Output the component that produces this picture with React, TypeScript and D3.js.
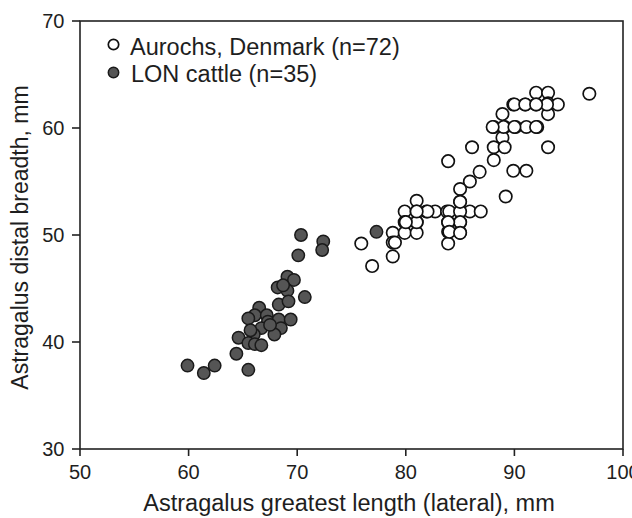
import React from "react";
import * as d3 from "d3";

const xTicks = [50, 60, 70, 80, 90, 100];
const yTicks = [30, 40, 50, 60, 70];

// Aurochs, Denmark (n=72): [length, breadth]
const aurochsX = [
  83.9, 86.8, 85.9, 85.0, 85.0, 81.0, 79.9, 81.0, 81.9, 82.7, 83.8, 85.0, 85.9, 86.9,
  79.9, 81.0, 83.9, 85.0, 78.8, 79.9, 81.0, 83.9, 85.0, 78.8, 83.9, 75.9, 78.8, 76.9,
  96.9, 92.0, 93.1, 89.9, 91.0, 92.0, 93.1, 94.0, 88.9, 93.1, 88.1, 89.1, 90.1, 91.1,
  92.1, 88.9, 88.1, 89.1, 93.1, 86.1, 88.1, 89.9, 91.1, 89.2,
  // overlapping (hidden) observations
  84.0, 85.0, 85.0, 81.0, 80.0, 83.9, 90.0, 92.0, 91.0, 93.0, 89.0, 88.0, 84.0, 85.0,
  82.0, 79.0, 92.0, 90.0, 85.0, 81.0,
];
const aurochsY = [
  56.9, 55.9, 55.0, 54.3, 53.1, 53.2, 52.2, 52.2, 52.2, 52.2, 52.2, 52.2, 52.2, 52.2,
  51.2, 51.2, 51.2, 51.2, 50.2, 50.2, 50.2, 50.3, 50.2, 49.3, 49.2, 49.2, 48.0, 47.1,
  63.2, 63.3, 63.3, 62.2, 62.2, 62.2, 62.3, 62.2, 61.3, 61.3, 60.1, 60.1, 60.1, 60.1,
  60.1, 59.1, 58.2, 58.2, 58.2, 58.2, 57.0, 56.0, 56.0, 53.6,
  52.2, 52.2, 51.2, 51.2, 51.2, 51.2, 62.2, 60.1, 62.2, 62.2, 60.1, 60.1, 50.3, 50.2,
  52.2, 49.3, 62.2, 60.1, 53.1, 52.2,
];

// LON cattle (n=35)
const lonX = [
  70.35, 72.4, 72.3, 70.1, 69.1, 69.7, 68.2, 69.1, 70.7, 68.3, 69.2, 66.5, 66.1, 65.5,
  67.2, 67.3, 68.3, 69.4, 66.7, 68.5, 67.9, 66.0, 64.6, 65.5, 66.1, 66.7, 64.4, 59.9,
  61.4, 62.4, 65.5, 77.3, 65.7, 67.5, 68.7,
];
const lonY = [
  50.0, 49.4, 48.6, 48.1, 46.1, 45.8, 45.1, 44.8, 44.2, 43.5, 43.8, 43.2, 42.5, 42.2,
  42.5, 41.9, 42.1, 42.1, 41.3, 41.3, 40.7, 40.7, 40.4, 39.9, 39.8, 39.7, 38.9, 37.8,
  37.1, 37.8, 37.4, 50.3, 41.1, 41.6, 45.3,
];

const W = 632;
const H = 518;
const left = 80, right = 623, top = 21, bottom = 449;
const font = "'Liberation Sans', Arial, sans-serif";

export default function App() {
  const x = d3.scaleLinear().domain([50, 100]).range([left, right]);
  const y = d3.scaleLinear().domain([30, 70]).range([bottom, top]);
  const r = 6.2;
  const axisColor = "#222";
  const textColor = "#1e1e1e";

  return (
    <svg
      width={W}
      height={H}
      style={{ position: "absolute", left: 0, top: 0, background: "#fff" }}
      fontFamily={font}
    >
      <rect x={0} y={0} width={W} height={H} fill="#fff" />
      {/* frame */}
      <rect
        x={left}
        y={top}
        width={right - left}
        height={bottom - top}
        fill="none"
        stroke={axisColor}
        strokeWidth={1.6}
      />
      {/* x ticks */}
      {xTicks.map((t) => (
        <g key={"xt" + t}>
          <line x1={x(t)} x2={x(t)} y1={bottom} y2={bottom + 7} stroke={axisColor} strokeWidth={1.6} />
          <text x={x(t)} y={478.5} textAnchor="middle" fontSize={20} fill={textColor}>
            {t}
          </text>
        </g>
      ))}
      {/* y ticks */}
      {yTicks.map((t) => (
        <g key={"yt" + t}>
          <line x1={left - 8} x2={left} y1={y(t)} y2={y(t)} stroke={axisColor} strokeWidth={1.6} />
          <text x={64.5} y={y(t) + 7} textAnchor="end" fontSize={20} fill={textColor}>
            {t}
          </text>
        </g>
      ))}
      {/* axis titles */}
      <text x={349} y={511} textAnchor="middle" fontSize={23.5} fill={textColor}>
        Astragalus greatest length (lateral), mm
      </text>
      <text
        transform={`translate(28, 237.5) rotate(-90)`}
        textAnchor="middle"
        fontSize={23}
        fill={textColor}
      >
        Astragalus distal breadth, mm
      </text>
      {/* aurochs */}
      {aurochsX.map((v, i) => (
        <circle
          key={"a" + i}
          cx={x(v)}
          cy={y(aurochsY[i])}
          r={r}
          fill="#fff"
          stroke="#111"
          strokeWidth={1.7}
        />
      ))}
      {/* LON cattle */}
      {lonX.map((v, i) => (
        <circle
          key={"l" + i}
          cx={x(v)}
          cy={y(lonY[i])}
          r={r}
          fill="#555"
          stroke="#1a1a1a"
          strokeWidth={1.5}
        />
      ))}
      {/* legend */}
      <circle cx={113.5} cy={44.5} r={5.2} fill="#fff" stroke="#111" strokeWidth={1.7} />
      <text x={130} y={55} fontSize={23.5} fill={textColor}>
        Aurochs, Denmark (n=72)
      </text>
      <circle cx={113.5} cy={72.5} r={5.2} fill="#555" stroke="#1a1a1a" strokeWidth={1.5} />
      <text x={131} y={81.5} fontSize={23.5} fill={textColor}>
        LON cattle (n=35)
      </text>
    </svg>
  );
}
